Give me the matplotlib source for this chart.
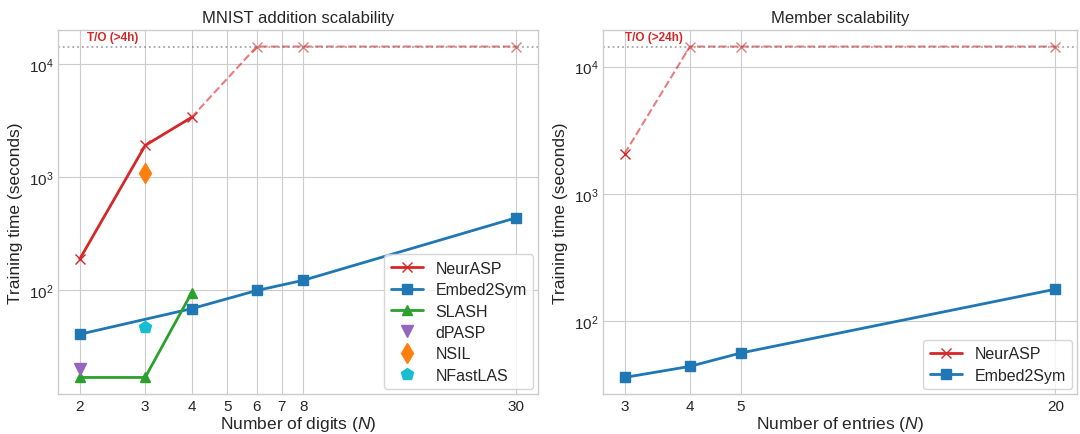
import matplotlib
matplotlib.use("Agg")
import matplotlib.pyplot as plt
import matplotlib.transforms as mtransforms

TIMEOUT = 14400

# MNIST addition scalability
digits = [2, 3, 4, 5, 6, 7, 8, 30]
neurasp_n = [2, 3, 4]
neurasp_t = [190, 1920, 3400]
neurasp_to_n = [4, 6, 8, 30]
neurasp_to_t = [3400, TIMEOUT, TIMEOUT, TIMEOUT]
embed_n = [2, 4, 6, 8, 30]
embed_t = [41, 69, 100, 123, 440]
slash_n = [2, 3, 4]
slash_t = [17, 17, 95]
dpasp_n = [2]
dpasp_t = [20]
nsil_n = [3]
nsil_t = [1100]
nfastlas_n = [3]
nfastlas_t = [48]

# Member scalability
entries = [3, 4, 5, 20]
mem_neurasp_n = [3]
mem_neurasp_t = [2070]
mem_neurasp_to_n = [3, 4, 5, 20]
mem_neurasp_to_t = [2070, TIMEOUT, TIMEOUT, TIMEOUT]
mem_embed_n = [3, 4, 5, 20]
mem_embed_t = [36, 44, 56, 178]

plt.style.use("seaborn-v0_8-whitegrid")
plt.rcParams["font.family"] = ["Liberation Sans", "DejaVu Sans"]
plt.rcParams["mathtext.fontset"] = "custom"
plt.rcParams["mathtext.it"] = "Liberation Sans:italic"
plt.rcParams["mathtext.rm"] = "Liberation Sans"

fig = plt.figure(figsize=(10.8, 4.35), dpi=100)
ax1 = fig.add_axes([58 / 1080, 40 / 435, 480 / 1080, 364 / 435])
ax2 = fig.add_axes([603 / 1080, 40 / 435, 474 / 1080, 364 / 435])

red = "tab:red"
blue = "tab:blue"

# left panel
ax1.plot(neurasp_n, neurasp_t, color=red, marker="x", lw=2, ms=7, label="NeurASP")
ax1.plot(neurasp_to_n, neurasp_to_t, color=red, marker="x", lw=1.5, ms=7,
         ls="--", alpha=0.6, markevery=[1, 2, 3])
ax1.plot(embed_n, embed_t, color=blue, marker="s", lw=2, ms=7, label="Embed2Sym")
ax1.plot(slash_n, slash_t, color="tab:green", marker="^", lw=2, ms=7, label="SLASH")
ax1.plot(dpasp_n, dpasp_t, color="tab:purple", marker="v", ls="none", ms=9, label="dPASP")
ax1.plot(nsil_n, nsil_t, color="tab:orange", marker="d", ls="none", ms=10, label="NSIL")
ax1.plot(nfastlas_n, nfastlas_t, color="tab:cyan", marker="p", ls="none", ms=9, label="NFastLAS")
ax1.axhline(TIMEOUT, color="gray", ls=":", lw=1.3, alpha=0.7)
tr1 = mtransforms.blended_transform_factory(ax1.transAxes, ax1.transData)
ax1.text(0.06, TIMEOUT * 1.07, "T/O (>4h)", transform=tr1, color=red,
         fontsize=8.5, fontweight="bold", va="bottom")
ax1.set_xscale("log")
ax1.set_yscale("log")
ax1.set_xticks(digits)
ax1.set_xticklabels([str(d) for d in digits])
ax1.xaxis.set_minor_locator(matplotlib.ticker.NullLocator())
ax1.set_title("MNIST addition scalability", fontsize=12)
ax1.set_xlabel("Number of digits ($N$)", fontsize=12.5, labelpad=1)
ax1.set_ylabel("Training time (seconds)", fontsize=12.5, labelpad=4)
ax1.tick_params(labelsize=11)
ax1.legend(loc="lower right", fontsize=11.5, frameon=True,
           labelspacing=0.4, borderaxespad=0.3)

# right panel
ax2.plot(mem_neurasp_n, mem_neurasp_t, color=red, marker="x", lw=2, ms=7, label="NeurASP")
ax2.plot(mem_neurasp_to_n, mem_neurasp_to_t, color=red, marker="x", lw=1.5, ms=7,
         ls="--", alpha=0.6, markevery=[1, 2, 3])
ax2.plot(mem_embed_n, mem_embed_t, color=blue, marker="s", lw=2, ms=7, label="Embed2Sym")
ax2.axhline(TIMEOUT, color="gray", ls=":", lw=1.3, alpha=0.7)
tr2 = mtransforms.blended_transform_factory(ax2.transAxes, ax2.transData)
ax2.text(0.046, TIMEOUT * 1.07, "T/O (>24h)", transform=tr2, color=red,
         fontsize=8.5, fontweight="bold", va="bottom")
ax2.set_xscale("log")
ax2.set_yscale("log")
ax2.set_xticks(entries)
ax2.set_xticklabels([str(e) for e in entries])
ax2.xaxis.set_minor_locator(matplotlib.ticker.NullLocator())
ax2.set_title("Member scalability", fontsize=12)
ax2.set_xlabel("Number of entries ($N$)", fontsize=12.5, labelpad=1)
ax2.set_ylabel("Training time (seconds)", fontsize=12.5, labelpad=4)
ax2.tick_params(labelsize=11)
ax2.legend(loc="lower right", fontsize=11.5, frameon=True,
           labelspacing=0.4, borderaxespad=0.3)

fig.savefig("out.png", dpi=100)
